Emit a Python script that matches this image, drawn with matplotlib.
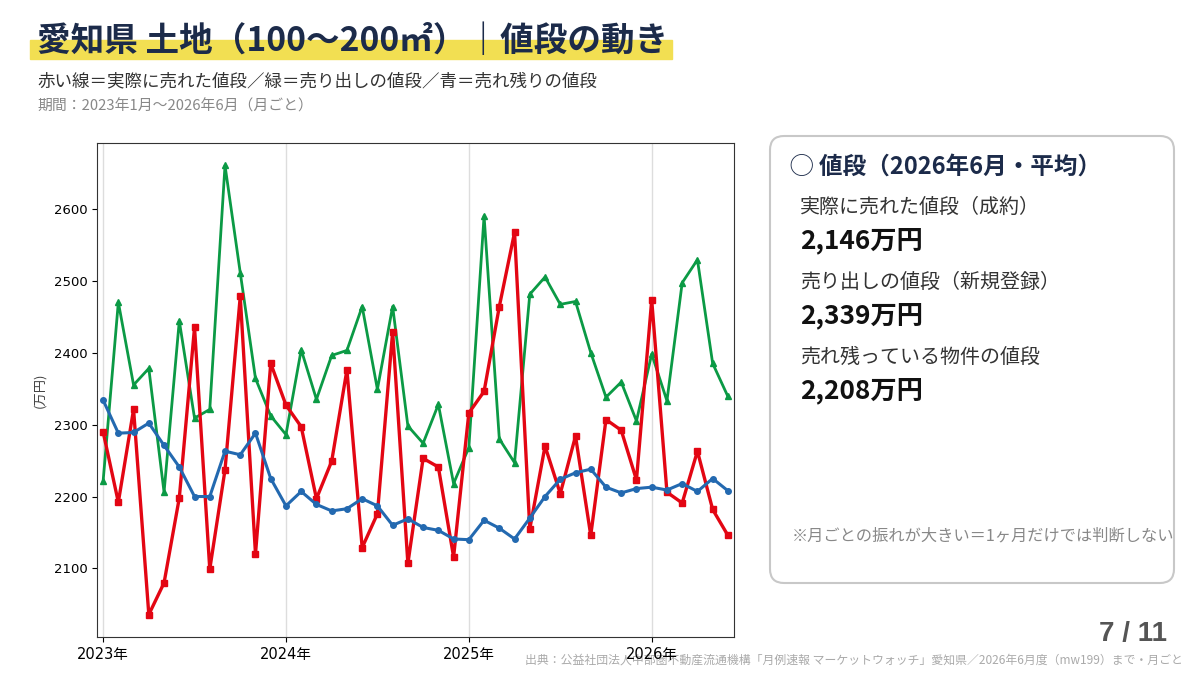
import numpy as np
import matplotlib
matplotlib.use("Agg")
import matplotlib.pyplot as plt
import matplotlib.patches as patches

plt.rcParams['font.family'] = ['DejaVu Sans', 'Noto Sans CJK JP']

# monthly values, Jan 2023 - Jun 2026 (万円)
sold = [2290, 2192, 2321, 2036, 2080, 2198, 2435, 2099, 2237, 2478, 2120, 2385,
        2327, 2297, 2197, 2249, 2376, 2129, 2176, 2429, 2107, 2253, 2241, 2116,
        2316, 2346, 2464, 2567, 2155, 2270, 2204, 2284, 2146, 2307, 2292, 2223,
        2473, 2206, 2191, 2263, 2182, 2146]
listed = [2221, 2470, 2355, 2378, 2206, 2444, 2309, 2321, 2660, 2511, 2364, 2312,
          2286, 2404, 2335, 2396, 2403, 2464, 2349, 2464, 2298, 2274, 2328, 2218,
          2268, 2590, 2280, 2247, 2481, 2505, 2467, 2471, 2400, 2338, 2359, 2305,
          2398, 2333, 2497, 2529, 2385, 2339]
stock = [2334, 2288, 2289, 2302, 2271, 2241, 2200, 2200, 2263, 2258, 2288, 2225,
         2187, 2207, 2189, 2180, 2183, 2197, 2187, 2160, 2169, 2157, 2153, 2141,
         2140, 2167, 2156, 2141, 2170, 2200, 2224, 2233, 2238, 2213, 2205, 2211,
         2213, 2209, 2218, 2207, 2225, 2208]
year_labels = ['2023年', '2024年', '2025年', '2026年']
year_pos = [0, 12, 24, 36]

card_title = '◯ 値段（2026年6月・平均）'
card_items = [('実際に売れた値段（成約）', '2,146万円'),
              ('売り出しの値段（新規登録）', '2,339万円'),
              ('売れ残っている物件の値段', '2,208万円')]

cjk = ['Noto Sans CJK JP', 'DejaVu Sans']
navy = '#1c2b4a'

fig = plt.figure(figsize=(12, 6.75), dpi=100)

# overlay in pixel coordinates for the page elements
bg = fig.add_axes([0, 0, 1, 1])
bg.set_xlim(0, 1200)
bg.set_ylim(675, 0)
bg.axis('off')

bg.add_patch(patches.Rectangle((30, 40), 642, 19, color='#f2df52', zorder=1))
bg.text(37, 41, '愛知県 土地（100〜200㎡）｜値段の動き', family=cjk, fontsize=24.2,
        fontweight='bold', color=navy, va='center', ha='left', zorder=2)
bg.text(37, 81, '赤い線＝実際に売れた値段／緑＝売り出しの値段／青＝売れ残りの値段',
        family=cjk, fontsize=12.6, color='#333333', va='center')
bg.text(37, 106, '期間：2023年1月〜2026年6月（月ごと）', family=cjk, fontsize=10.7,
        color='#888888', va='center')

bg.add_patch(patches.FancyBboxPatch((770, 136), 404, 447,
                                    boxstyle='round,pad=0,rounding_size=14',
                                    fc='white', ec='#c8c8c8', lw=1.5))
bg.text(790, 167, card_title, family=cjk, fontsize=17, fontweight='bold',
        color=navy, va='center')
y = 207
for lab, val in card_items:
    bg.text(800, y, lab, family=cjk, fontsize=14.4, color='#333333', va='center')
    bg.text(800, y + 34, val, family=cjk, fontsize=18.9, fontweight='bold',
            color='#111111', va='center')
    y += 75
bg.text(792, 536, '※月ごとの振れが大きい＝1ヶ月だけでは判断しない', family=cjk,
        fontsize=11.7, color='#888888', va='center')

bg.text(1167, 634, '7 / 11', family='Liberation Sans', fontsize=20,
        fontweight='bold', color='#555555', ha='right', va='center')
bg.text(1183, 660,
        '出典：公益社団法人中部圏不動産流通機構「月例速報 マーケットウォッチ」愛知県／2026年6月度（mw199）まで・月ごと',
        family=cjk, fontsize=8.55, color='#aaaaaa', ha='right', va='center', zorder=5)

# chart
ax = fig.add_axes([97 / 1200, 38 / 675, 637 / 1200, 494 / 675])
x = np.arange(len(sold))
ax.plot(x, sold, color='#e30613', lw=2.4, marker='s', ms=4.5, zorder=3)
ax.plot(x, listed, color='#0b9a45', lw=2.0, marker='^', ms=4.5, zorder=2)
ax.plot(x, stock, color='#2369b0', lw=2.2, marker='o', ms=4, zorder=4)

ax.set_xlim(-0.4, 41.4)
ax.set_xticks(year_pos)
ax.set_xticklabels(year_labels, fontsize=10.5)
ax.set_yticks([2100, 2200, 2300, 2400, 2500, 2600])
ax.tick_params(axis='y', labelsize=9.5)
ax.grid(axis='x', color='#dddddd', lw=1)
ax.set_axisbelow(True)
ax.set_ylabel('(万円)', family=cjk, fontsize=9.5, color='#444444', labelpad=5)
for s in ax.spines.values():
    s.set_color('#333333')

fig.savefig('out.png', dpi=100)
